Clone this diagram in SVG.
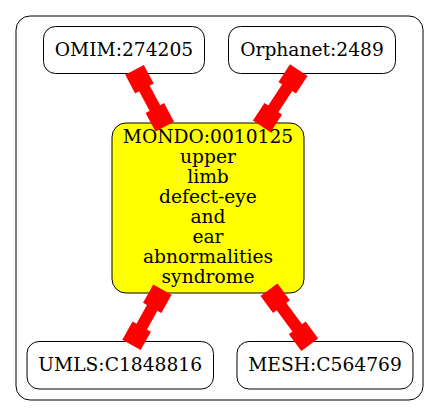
<svg xmlns="http://www.w3.org/2000/svg" width="440" height="416" viewBox="0 0 440 416">
  <style>
    .cluster { fill: #ffffff; stroke: #000000; stroke-width: 1; }
    .node rect { fill: #ffffff; stroke: #000000; stroke-width: 1; }
    .node.focus rect { fill: #ffff00; }
    .node text { font-family: "DejaVu Serif", "Liberation Serif", serif; font-size: 18.67px; fill: #000000; text-anchor: middle; }
    .edge { stroke: #ff0000; stroke-width: 12; fill: none; marker-start: url(#box); marker-end: url(#box); }
  </style>
  <defs>
    <!-- square end caps on both ends of each link -->
    <marker id="box" markerUnits="userSpaceOnUse" markerWidth="22" markerHeight="22" refX="10.5" refY="10.5" orient="auto" overflow="visible">
      <rect x="0" y="0" width="21" height="21" fill="#ff0000"/>
    </marker>
  </defs>

  <rect class="cluster" x="16" y="16" width="407" height="384" rx="14" ry="14"/>

  <g id="omim" class="node">
    <rect x="43.5" y="26.5" width="161" height="47" rx="12" ry="12"/>
    <text x="124" y="56">OMIM:274205</text>
  </g>

  <g id="orphanet" class="node">
    <rect x="228.5" y="26.5" width="167" height="47" rx="12" ry="12"/>
    <text x="312" y="56">Orphanet:2489</text>
  </g>

  <g id="mondo" class="node focus">
    <rect x="112" y="123" width="192" height="170" rx="14" ry="14"/>
    <text x="208" y="142.5">MONDO:0010125</text>
    <text x="208" y="162.5">upper</text>
    <text x="208" y="182.5">limb</text>
    <text x="208" y="202.5">defect-eye</text>
    <text x="208" y="222.5">and</text>
    <text x="208" y="242.5">ear</text>
    <text x="208" y="262.5">abnormalities</text>
    <text x="208" y="282.5">syndrome</text>
  </g>

  <g id="umls" class="node">
    <rect x="27" y="341.5" width="186.5" height="47.5" rx="12" ry="12"/>
    <text x="120.2" y="370.5">UMLS:C1848816</text>
  </g>

  <g id="mesh" class="node">
    <rect x="237" y="341.5" width="176" height="47.5" rx="12" ry="12"/>
    <text x="325" y="370.5">MESH:C564769</text>
  </g>

  <g id="edges">
    <line class="edge" x1="139.5" y1="79.2" x2="159.8" y2="117.3"/>
    <line class="edge" x1="293" y1="78.9" x2="267.5" y2="117.6"/>
    <line class="edge" x1="157.3" y1="298.7" x2="136.6" y2="335.8"/>
    <line class="edge" x1="275.2" y1="298.2" x2="303.5" y2="336.3"/>
  </g>
</svg>
